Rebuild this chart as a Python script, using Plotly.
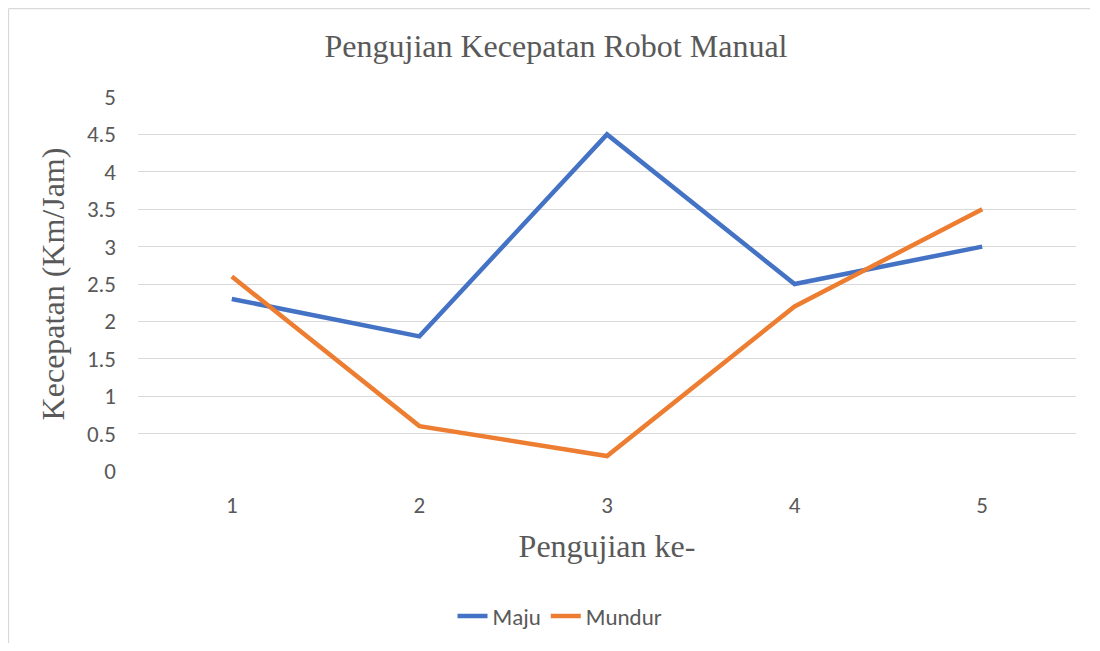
import plotly.graph_objects as go

categories = ["1", "2", "3", "4", "5"]
maju = [2.3, 1.8, 4.5, 2.5, 3.0]
mundur = [2.6, 0.6, 0.2, 2.2, 3.5]
y_ticks = [0, 0.5, 1, 1.5, 2, 2.5, 3, 3.5, 4, 4.5, 5]

# page body has an 8px margin on every side; figure coordinates = screen - 8
OFF = 8
W, H = 1100 - 2 * OFF, 651 - 2 * OFF
L, T = 130, 89
pw, ph = 938, 374
R, B = W - L - pw, H - T - ph

def px_x(p):
    return (p - OFF - L) / pw

def px_y(p):
    return (T + ph - (p - OFF)) / ph

text_col = "#595959"
serif = "Liberation Serif, Times New Roman, serif"
sans = "Carlito, Lato, Open Sans, sans-serif"

fig = go.Figure()
fig.add_trace(go.Scatter(x=categories, y=maju, name="Maju", mode="lines",
                         line=dict(color="#4472C4", width=4.5)))
fig.add_trace(go.Scatter(x=categories, y=mundur, name="Mundur", mode="lines",
                         line=dict(color="#ED7D31", width=4.5)))

fig.update_layout(
    width=W, height=H,
    margin=dict(l=L, r=R, t=T, b=B, autoexpand=False),
    paper_bgcolor="white", plot_bgcolor="white",
    showlegend=True,
    legend=dict(orientation="h", x=px_x(560), xanchor="center",
                y=px_y(616), yanchor="middle",
                font=dict(family=sans, size=23, color=text_col),
                traceorder="normal"),
    xaxis=dict(type="category", range=[-0.5, 4.5], showgrid=False,
               zeroline=False, showline=False, ticks="",
               tickfont=dict(family=sans, size=23, color=text_col),
               ticklabelstandoff=18,
               title=dict(text="Pengujian ke-", standoff=16,
                          font=dict(family=serif, size=32, color=text_col))),
    yaxis=dict(range=[0, 5], tickvals=y_ticks,
               ticktext=[("%g" % v) for v in y_ticks],
               showgrid=True, gridcolor="#D9D9D9", gridwidth=1.3,
               zeroline=False, showline=False, ticks="",
               tickfont=dict(family=sans, size=23, color=text_col),
               ticklabelstandoff=21,
               title=dict(text="Kecepatan (Km/Jam)", standoff=12,
                          font=dict(family=serif, size=32, color=text_col))),
    title=dict(text="Pengujian Kecepatan Robot Manual",
               x=(556 - OFF) / W, xanchor="center", xref="container",
               y=1 - (46 - OFF) / H, yanchor="middle", yref="container",
               font=dict(family=serif, size=32, color=text_col)),
)

# chart border: only the left and top edges show in the reference
border = dict(color="#D9D9D9", width=1.3)
fig.add_shape(type="line", xref="paper", yref="paper",
              x0=px_x(8.5), x1=px_x(8.5), y0=px_y(700), y1=px_y(8.5),
              line=border, layer="below")
fig.add_shape(type="line", xref="paper", yref="paper",
              x0=px_x(8.5), x1=px_x(1090), y0=px_y(8.5), y1=px_y(8.5),
              line=border, layer="below")

fig.write_html("out.html")
